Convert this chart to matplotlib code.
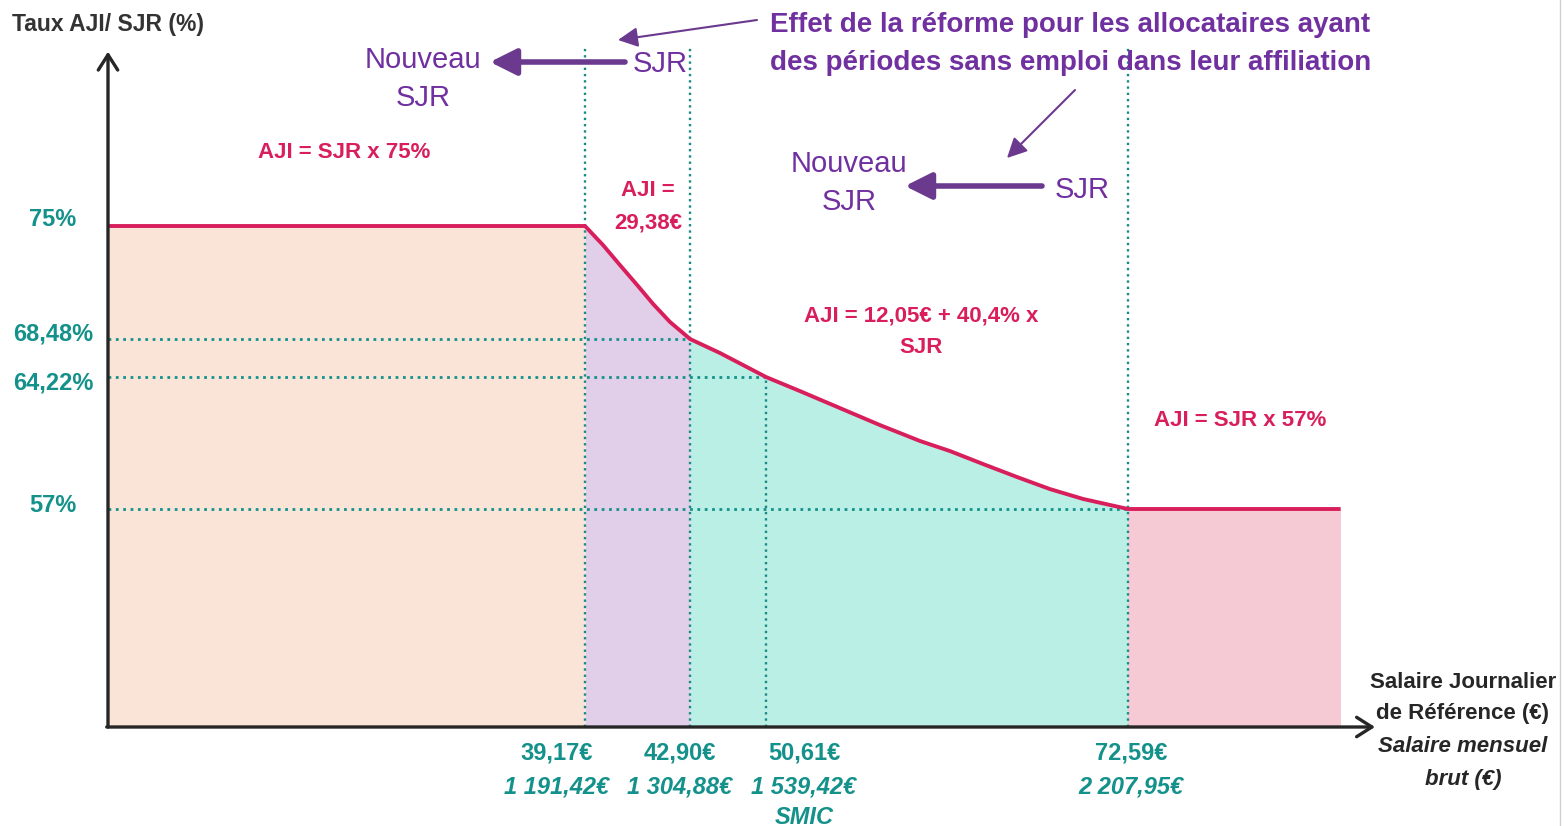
import numpy as np
import matplotlib
matplotlib.use('Agg')
import matplotlib.pyplot as plt
from matplotlib.lines import Line2D
from matplotlib.patches import FancyArrowPatch

plt.rcParams['font.family'] = ['Liberation Sans', 'DejaVu Sans']

# values shown on the chart
rate_labels = ['75%', '68,48%', '64,22%', '57%']
rate_levels = [75, 68.48, 64.22, 57]
sjr_breaks = [39.17, 42.90, 50.61, 72.59]
sjr_labels = ['39,17€', '42,90€', '50,61€', '72,59€']
monthly_labels = ['1 191,42€', '1 304,88€', '1 539,42€', '2 207,95€']
sjr_end = 85.5

# curve (SJR in €, rate in %)
curve1_sjr = [39.17, 39.81, 40.41, 41.02, 41.59, 42.19, 42.65, 42.90]
curve1_rate = [75.0, 73.90, 72.75, 71.60, 70.50, 69.46, 68.83, 68.48]
curve2_sjr = [42.90, 45.94, 48.27, 50.61, 52.67, 55.10, 57.53, 59.96, 61.78,
              63.79, 65.85, 67.85, 69.86, 72.59]
curve2_rate = [68.48, 66.91, 65.57, 64.22, 63.45, 62.52, 61.59, 60.72, 60.17,
               59.46, 58.75, 58.09, 57.55, 57.0]

W, H = 1564, 826
PEACH = '#FAE4D8'
LILAC = '#E1CFE9'
MINT = '#BAEFE6'
PINK = '#F6CAD5'
CRIMSON = '#D81E5B'
TEAL = '#13918A'
DTEAL = '#1B8A84'
PURPLE = '#7030A0'
APURPLE = '#6B3A8E'
DARK = '#262626'


def make_map(src, dst):
    src = np.asarray(src, float)
    dst = np.asarray(dst, float)
    lo = (dst[1] - dst[0]) / (src[1] - src[0])
    hi = (dst[-1] - dst[-2]) / (src[-1] - src[-2])

    def f(v):
        v = np.asarray(v, float)
        out = np.interp(v, src, dst)
        out = np.where(v < src[0], dst[0] + (v - src[0]) * lo, out)
        out = np.where(v > src[-1], dst[-1] + (v - src[-1]) * hi, out)
        return out
    return f


# schematic (non proportional) axes of the original drawing
x_anchor = [0] + sjr_breaks
x_anchor_px = [0, 477, 582, 658, 1020]
y_anchor = [0, 57, 64.22, 68.48, 75]
y_anchor_px = [0, 218, 350, 388, 501]
xf, xi = make_map(x_anchor, x_anchor_px), make_map(x_anchor_px, x_anchor)
yf, yi = make_map(y_anchor, y_anchor_px), make_map(y_anchor_px, y_anchor)

fig = plt.figure(figsize=(W / 100, H / 100), dpi=100)
ax = fig.add_axes([108 / W, 99 / H, 1267 / W, 672 / H])
ax.set_xscale('function', functions=(xf, xi))
ax.set_yscale('function', functions=(yf, yi))
ax.set_xlim(0, float(xi(1267)))
ax.set_ylim(0, float(yi(672)))
ax.axis('off')

# shaded zones
ax.fill_between([0, sjr_breaks[0]], rate_levels[0], color=PEACH, lw=0, zorder=1)
ax.fill_between(curve1_sjr, curve1_rate, color=LILAC, lw=0, zorder=1)
ax.fill_between(curve2_sjr, curve2_rate, color=MINT, lw=0, zorder=1)
ax.fill_between([sjr_breaks[-1], sjr_end], rate_levels[-1], color=PINK, lw=0, zorder=1)

# dotted guides
for lvl, end in zip(rate_levels[1:], sjr_breaks[1:]):
    ax.plot([0, end], [lvl, lvl], ls=':', lw=2.0, color=TEAL, zorder=2)
top = float(yi(679))
for i, b in enumerate(sjr_breaks):
    y1 = rate_levels[2] if i == 2 else top
    ax.plot([b, b], [0, y1], ls=':', lw=1.7, color=DTEAL, zorder=2, clip_on=False)

# AJI / SJR curve
line_x = [0] + curve1_sjr + curve2_sjr[1:] + [sjr_end]
line_y = [rate_levels[0]] + curve1_rate + curve2_rate[1:] + [rate_levels[-1]]
ax.plot(line_x, line_y, color=CRIMSON, lw=2.8, zorder=3,
        solid_capstyle='butt', solid_joinstyle='round')

# axes with arrow heads
ax_arrow = dict(arrowstyle='->,head_length=0.55,head_width=0.35', lw=2.4, color=DARK,
                shrinkA=0, shrinkB=0, mutation_scale=20)
ax.annotate('', xy=(0, 1.005), xytext=(0, 0), xycoords='axes fraction',
            arrowprops=ax_arrow, annotation_clip=False)
ax.annotate('', xy=(1, 0), xytext=(-0.001, 0), xycoords='axes fraction',
            arrowprops=ax_arrow, annotation_clip=False)


def P(x, y):
    return (x, H - y)


def arrow(tail, head, lw, ms, hl, hw):
    fig.add_artist(FancyArrowPatch(
        P(*tail), P(*head), transform=None,
        arrowstyle=f'-|>,head_length={hl},head_width={hw}',
        mutation_scale=ms, lw=lw, color=APURPLE, shrinkA=0, shrinkB=0))


arrow((625, 62), (490, 62), 4.0, 20, 0.8, 0.4)
arrow((1042, 186), (905, 186), 4.0, 20, 0.8, 0.4)
arrow((757, 20), (618, 40), 1.5, 15, 0.8, 0.4)
arrow((1075, 90), (1007, 158), 1.5, 15, 0.8, 0.4)


def label(x, y, s, ha='center', **kw):
    fig.text(x / W, 1 - y / H, s, ha=ha, va='center', **kw)


label(12, 25, 'Taux AJI/ SJR (%)', ha='left', fontsize=16.5, fontweight='bold', color='#333333')

for x, y0 in [(423, 60), (849, 164)]:
    label(x, y0, 'Nouveau', fontsize=21, color=PURPLE)
    label(x, y0 + 38, 'SJR', fontsize=21, color=PURPLE)
label(660, 64, 'SJR', fontsize=21, color=PURPLE)
label(1082, 190, 'SJR', fontsize=21, color=PURPLE)

label(770, 25, 'Effet de la réforme pour les allocataires ayant', ha='left',
      fontsize=20, fontweight='bold', color=PURPLE)
label(770, 63, 'des périodes sans emploi dans leur affiliation', ha='left',
      fontsize=20, fontweight='bold', color=PURPLE)

red = dict(fontsize=16, fontweight='bold', color=CRIMSON)
label(344, 153, 'AJI = SJR x 75%', **red)
label(648, 190, 'AJI =', **red)
label(648, 223, '29,38€', **red)
label(921, 316, 'AJI = 12,05€ + 40,4% x', **red)
label(921, 348, 'SJR', **red)
label(1240, 420, 'AJI = SJR x 57%', **red)

rate_label_y = [220, 334, 383, 505]
for s, y in zip(rate_labels, rate_label_y):
    label(53, y, s, fontsize=17, fontweight='bold', color=TEAL)

tick_x = [557, 680, 804, 1131]
for x, s, m in zip(tick_x, sjr_labels, monthly_labels):
    label(x, 753, s, fontsize=17, fontweight='bold', color=TEAL)
    label(x, 787, m, fontsize=17, fontweight='bold', fontstyle='italic', color=TEAL)
label(804, 817, 'SMIC', fontsize=17, fontweight='bold', fontstyle='italic', color=TEAL)

label(1463, 683, 'Salaire Journalier', fontsize=16, fontweight='bold', color=DARK)
label(1463, 714, 'de Référence (€)', fontsize=16, fontweight='bold', color=DARK)
label(1463, 747, 'Salaire mensuel', fontsize=16, fontweight='bold', fontstyle='italic', color=DARK)
label(1463, 779, 'brut (€)', fontsize=16, fontweight='bold', fontstyle='italic', color=DARK)

fig.add_artist(Line2D([1560 / W, 1560 / W], [0, 1], color='#D0D0D0', lw=1))

fig.savefig('out.png', dpi=100)
